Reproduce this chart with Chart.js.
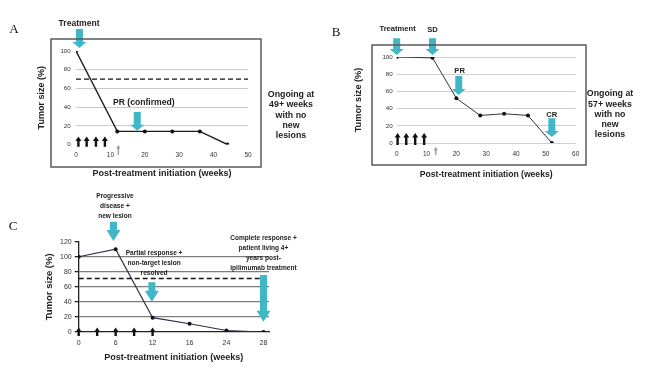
<!DOCTYPE html>
<html>
<head>
<meta charset="utf-8">
<script src="https://cdn.jsdelivr.net/npm/chart.js@4"></script>
<style>
  body { margin: 0; background: #fff; width: 658px; height: 368px; overflow: hidden; position: relative; }
  canvas { position: absolute; }
</style>
</head>
<body>
<canvas id="chart-a" width="330" height="185" style="left:0;top:0"></canvas>
<canvas id="chart-b" width="328" height="185" style="left:330px;top:0"></canvas>
<canvas id="chart-c" width="330" height="188" style="left:0;top:180px"></canvas>
<script>
// Panel A
const weeksA = [0, 12, 20, 28, 36, 44]
const sizeA = [100, 14, 14, 14, 14, 0]
const thresholdA = 70
const doseWeeksA = [0.7, 3.1, 5.8, 8.4]
const scanWeekA = 12.3
const noteA = ['Ongoing at', '49+ weeks', 'with no', 'new', 'lesions']

// Panel B
const weeksB = [0, 12, 20, 28, 36, 44, 52]
const sizeB = [100, 99, 52, 32, 34, 32, 0]
const doseWeeksB = [0.3, 3.2, 6.2, 9.2]
const scanWeekB = 13.1
const noteB = ['Ongoing at', '57+ weeks', 'with no', 'new', 'lesions']

// Panel C (evenly spaced visits)
const weeksC = [0, 6, 12, 16, 24, 28]
const sizeC = [100, 110, 19, 11, 2, 0]
const thresholdC = 71
const doseSlotsC = [0, 0.5, 1, 1.5, 2]

// callouts: x / arrow top / arrow tip / label anchor, all in data units
const calloutsA = [
  { x: 1, top: 123.5, tip: 103.2, text: ['Treatment'], tx: 0.9, ty: 128.9 },
  { x: 17.8, top: 34.8, tip: 14.8, text: ['PR (confirmed)'], tx: 19.7, ty: 44.4 }
]
const calloutsB = [
  { x: 0, top: 121.7, tip: 102.3, text: ['Treatment'], tx: 0.3, ty: 132.2 },
  { x: 12, top: 121.7, tip: 102.3, text: ['SD'], tx: 12, ty: 131.4 },
  { x: 20.8, top: 77.9, tip: 55.8, text: ['PR'], tx: 21.1, ty: 84 },
  { x: 52, top: 28.7, tip: 7, text: ['CR'], tx: 52, ty: 32.6 }
]
const calloutsC = [
  { x: 0.94, top: 146.6, tip: 120.9, text: ['Progressive', 'disease +', 'new lesion'], tx: 0.98, ty: 180.7 },
  { x: 1.98, top: 66, tip: 40.3, text: ['Partial response +', 'non-target lesion', 'resolved'], tx: 2.04, ty: 105.4 },
  { x: 5, top: 75.7, tip: 13.7, text: ['Complete response +', 'patient living 4+', 'years post-', 'ipilimumab treatment'], tx: 5, ty: 125.8 }
]

const TEAL = '#3fb7c6'
const SANS = '"Liberation Sans", Arial, sans-serif'
Chart.defaults.font.family = SANS
Chart.defaults.color = '#333'

function blockArrow(ctx, x, from, to, shaft, head, headH, color) {
  const dir = to > from ? 1 : -1
  const neck = to - dir * headH
  ctx.fillStyle = color
  ctx.beginPath()
  ctx.moveTo(x - shaft / 2, from)
  ctx.lineTo(x + shaft / 2, from)
  ctx.lineTo(x + shaft / 2, neck)
  ctx.lineTo(x + head / 2, neck)
  ctx.lineTo(x, to)
  ctx.lineTo(x - head / 2, neck)
  ctx.lineTo(x - shaft / 2, neck)
  ctx.closePath()
  ctx.fill()
}

// sx < 1 squeezes the text sideways (narrow lettering in panel C)
function textLines(ctx, lines, x, y, lh, font, sx) {
  ctx.save()
  ctx.font = font
  ctx.fillStyle = '#222'
  ctx.textAlign = 'center'
  ctx.textBaseline = 'middle'
  ctx.translate(x, y)
  ctx.scale(sx || 1, 1)
  lines.forEach((s, i) => ctx.fillText(s, 0, i * lh))
  ctx.restore()
}

function deco(cfg) {
  return {
    id: 'deco' + cfg.letter,
    afterDatasetsDraw(chart) {
      const ctx = chart.ctx
      const xs = chart.scales.x
      const ys = chart.scales.y
      ctx.save()
      // dosing arrows
      cfg.doses.forEach(d => {
        blockArrow(ctx, xs.getPixelForValue(d), ys.getPixelForValue(cfg.doseFrom), ys.getPixelForValue(cfg.doseTo), 2.4, 6, 4.5, '#111')
      })
      if (cfg.scan !== undefined) {
        blockArrow(ctx, xs.getPixelForValue(cfg.scan), ys.getPixelForValue(cfg.scanFrom), ys.getPixelForValue(cfg.scanTo), 1.4, 4, 3.5, '#9a9a9a')
      }
      // teal callouts
      cfg.callouts.forEach(c => {
        const x = xs.getPixelForValue(c.x)
        blockArrow(ctx, x, ys.getPixelForValue(c.top), ys.getPixelForValue(c.tip), 7, 14, cfg.headH, TEAL)
        textLines(ctx, c.text, xs.getPixelForValue(c.tx), ys.getPixelForValue(c.ty), cfg.lh, cfg.calloutFont, cfg.squeeze)
      })
      ctx.restore()
    },
    afterDraw(chart) {
      const ctx = chart.ctx
      ctx.save()
      if (cfg.frame) {
        ctx.strokeStyle = '#5a5a5a'
        ctx.lineWidth = 1.5
        ctx.strokeRect(...cfg.frame)
      }
      if (cfg.note) {
        textLines(ctx, cfg.note, cfg.noteAt[0], cfg.noteAt[1], cfg.noteLh, 'bold 8.8px ' + SANS)
      }
      ctx.font = '13px "Liberation Serif", "Times New Roman", serif'
      ctx.fillStyle = '#111'
      ctx.textAlign = 'center'
      ctx.textBaseline = 'middle'
      ctx.fillText(cfg.letter, cfg.letterAt[0], cfg.letterAt[1])
      ctx.restore()
    }
  }
}

function lineSet(weeks, sizes, color, width) {
  return {
    data: weeks.map((w, i) => ({ x: w, y: sizes[i] })),
    borderColor: color,
    borderWidth: width,
    pointRadius: 2,
    pointBackgroundColor: '#111',
    pointBorderWidth: 0,
    tension: 0
  }
}

function dashSet(x0, x1, level, width) {
  return {
    data: [{ x: x0, y: level }, { x: x1, y: level }],
    borderColor: '#111',
    borderWidth: width,
    borderDash: [5, 3],
    pointRadius: 0
  }
}

const fixW = w => s => { s.width = w }
const fixH = h => s => { s.height = h }

// ---- A ----
new Chart(document.getElementById('chart-a'), {
  type: 'line',
  data: { datasets: [dashSet(0, 50, thresholdA, 1.3), lineSet(weeksA, sizeA, '#1e1e1e', 1.4)] },
  options: {
    responsive: false, animation: false, devicePixelRatio: 1,
    layout: { padding: { left: 36.6, top: 51, right: 82, bottom: 5.6 } },
    plugins: { legend: { display: false }, tooltip: { enabled: false } },
    scales: {
      x: {
        type: 'linear', min: 0, max: 50, afterFit: fixH(34.9),
        grid: { display: false, drawTicks: false }, border: { display: false },
        ticks: { stepSize: 10, padding: 6.6, font: { size: 6.5 } },
        title: { display: true, text: 'Post-treatment initiation (weeks)', padding: 0, color: '#222', font: { size: 9, weight: 'bold' } }
      },
      y: {
        min: 0, max: 100, afterFit: fixW(39.4),
        grid: { drawTicks: false, color: c => (c.tick.value > 0 && c.tick.value < 100 ? '#c9c9c9' : 'transparent') },
        border: { display: false },
        ticks: { stepSize: 20, padding: 5.3, font: { size: 6.2 } },
        title: { display: true, text: 'Tumor size (%)', padding: 0, color: '#222', font: { size: 9, weight: 'bold' } }
      }
    }
  },
  plugins: [deco({
    letter: 'A', letterAt: [14, 30], frame: [51, 39, 210, 128],
    doses: doseWeeksA, doseFrom: -2.5, doseTo: 8.5,
    scan: scanWeekA, scanFrom: -11, scanTo: -0.5,
    callouts: calloutsA, headH: 6, lh: 10, calloutFont: 'bold 8.6px ' + SANS,
    note: noteA, noteAt: [291, 94.3], noteLh: 10.4
  })]
})

// ---- B ----
new Chart(document.getElementById('chart-b'), {
  type: 'line',
  data: { datasets: [lineSet(weeksB, sizeB, '#333', 1)] },
  options: {
    responsive: false, animation: false, devicePixelRatio: 1,
    layout: { padding: { left: 22.9, top: 57, right: 82.3, bottom: 5.6 } },
    plugins: { legend: { display: false }, tooltip: { enabled: false } },
    scales: {
      x: {
        type: 'linear', min: 0, max: 60, afterFit: fixH(36.4),
        grid: { display: false, drawTicks: false }, border: { display: false },
        ticks: { stepSize: 10, padding: 7.1, font: { size: 6.5 } },
        title: { display: true, text: 'Post-treatment initiation (weeks)', padding: 0, color: '#222', font: { size: 8.6, weight: 'bold' } }
      },
      y: {
        min: 0, max: 100, afterFit: fixW(43.8),
        grid: { drawTicks: false, color: '#d0d0d0' },
        border: { display: false },
        ticks: { stepSize: 10, padding: 4, font: { size: 6.2 } },
        title: { display: true, text: 'Tumor size (%)', padding: 0, color: '#222', font: { size: 9.2, weight: 'bold' } }
      }
    }
  },
  plugins: [deco({
    letter: 'B', letterAt: [6, 33], frame: [42, 45, 214, 120],
    doses: doseWeeksB, doseFrom: -2.3, doseTo: 11.6,
    scan: scanWeekB, scanFrom: -14, scanTo: -4.3,
    callouts: calloutsB, headH: 6, lh: 10, calloutFont: 'bold 7.6px ' + SANS,
    note: noteB, noteAt: [280, 94], noteLh: 10.1
  })]
})

// ---- C ----
new Chart(document.getElementById('chart-c'), {
  type: 'line',
  data: { datasets: [dashSet(0, 5, thresholdC, 1.5), lineSet(weeksC.map((w, i) => i), sizeC, '#2e2e4a', 1.2)] },
  options: {
    responsive: false, animation: false, devicePixelRatio: 1,
    layout: { padding: { left: 43.3, top: 61.7, right: 61, bottom: 4.9 } },
    plugins: { legend: { display: false }, tooltip: { enabled: false } },
    scales: {
      x: {
        type: 'linear', min: 0, max: 5.15, afterFit: fixH(31.1),
        afterBuildTicks: s => { s.ticks = weeksC.map((w, i) => ({ value: i })) },
        grid: { display: false, drawTicks: false }, border: { display: true, color: '#222', width: 1.3 },
        ticks: { padding: 7.1, font: { size: 7 }, callback: v => weeksC[v] },
        title: { display: true, text: 'Post-treatment initiation (weeks)', padding: 0, color: '#222', font: { size: 9, weight: 'bold' } }
      },
      y: {
        min: 0, max: 120, afterFit: fixW(35.4),
        grid: { tickLength: 4, tickColor: '#222', lineWidth: 1.3, color: c => (c.tick.value > 0 && c.tick.value < 120 ? '#7d7d7d' : 'transparent') },
        border: { display: true, color: '#222', width: 1.3 },
        ticks: { stepSize: 20, padding: 3, font: { size: 7 } },
        title: { display: true, text: 'Tumor size (%)', padding: 0, color: '#222', font: { size: 9.5, weight: 'bold' } }
      }
    }
  },
  plugins: [deco({
    letter: 'C', letterAt: [13, 47],
    doses: doseSlotsC, doseFrom: -5.3, doseTo: 6.1,
    callouts: calloutsC, headH: 11, lh: 10, calloutFont: 'bold 8px ' + SANS, squeeze: 0.82
  })]
})
</script>
</body>
</html>
